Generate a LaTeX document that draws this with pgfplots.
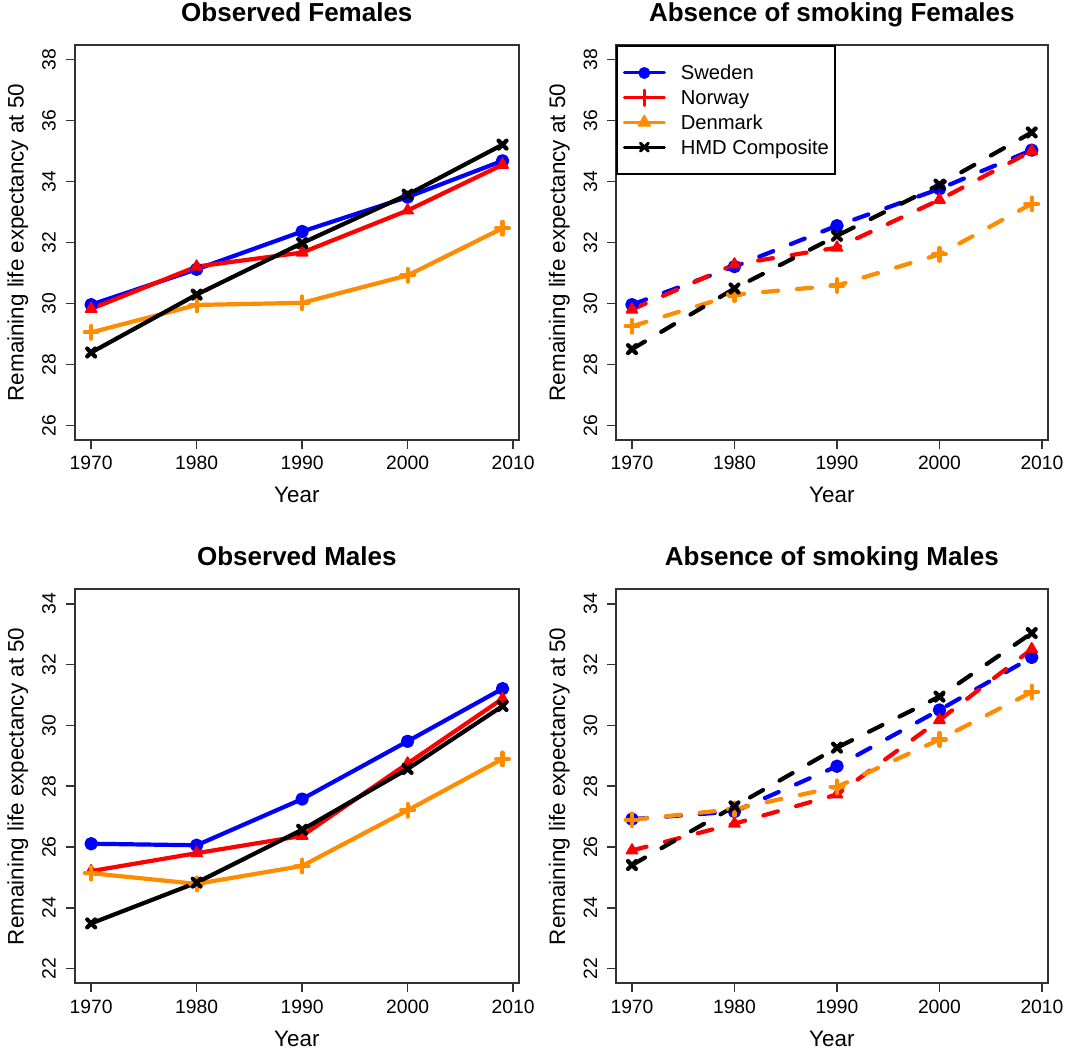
\documentclass[border=0pt]{standalone}
\usepackage{pgfplots}
\pgfplotsset{compat=1.18}
\usepackage{pgfplotstable}
\usepackage{fontspec}
\setmainfont{Liberation Sans}
\definecolor{rorange}{RGB}{255,140,0}

\pgfplotstableread{
year sw no dk hmd
1970 29.96 29.82 29.05 28.39
1980 31.12 31.21 29.95 30.29
1990 32.36 31.67 30.02 31.98
2000 33.49 33.05 30.92 33.57
2009 34.68 34.55 32.47 35.21
}\obsF
\pgfplotstableread{
year sw no dk hmd
1970 29.96 29.80 29.25 28.50
1980 31.21 31.28 30.29 30.49
1990 32.55 31.83 30.59 32.22
2000 33.76 33.40 31.61 33.90
2009 35.03 35.00 33.27 35.61
}\absF
\pgfplotstableread{
year sw no dk hmd
1970 26.11 25.21 25.14 23.49
1980 26.06 25.80 24.79 24.83
1990 27.58 26.37 25.38 26.57
2000 29.48 28.75 27.21 28.57
2009 31.21 30.88 28.90 30.64
}\obsM
\pgfplotstableread{
year sw no dk hmd
1970 26.92 25.89 26.90 25.41
1980 27.17 26.77 27.25 27.34
1990 28.66 27.73 27.98 29.27
2000 30.51 30.18 29.54 30.95
2009 32.24 32.51 31.10 33.04
}\absM

\pgfplotsset{
  rstyle/.style={
    scale only axis,
    axis line style={line width=0.8pt, black!80},
    xtick pos=bottom, ytick pos=left,
    tick align=outside,
    major tick length=4.35pt,
    tick style={line width=0.8pt, black!80},
    xmin=1968.44, xmax=2010.56,
    xtick={1970,1980,1990,2000,2010},
    /pgf/number format/assume math mode=true,
    /pgf/number format/1000 sep={},
    x tick label style={font=\fontsize{9.65}{11}\selectfont, anchor=base, yshift=-10.65pt},
    y tick label style={font=\fontsize{9.65}{11}\selectfont, xshift=-5.15pt, rotate=90, anchor=base},
    every axis x label/.style={at={(axis description cs:0.5,0)}, yshift=-31.5pt, anchor=base, font=\fontsize{11.2}{13}\selectfont},
    every axis y label/.style={at={(axis description cs:0,0.5)}, xshift=-25.5pt, rotate=90, anchor=base, font=\fontsize{11.2}{13}\selectfont},
    every axis title/.style={at={(axis description cs:0.5,1)}, yshift=11.8pt, anchor=base, font=\fontsize{13}{15}\selectfont\bfseries},
    xlabel={Year},
    ylabel={Remaining life expectancy at 50},
    every axis plot/.append style={line width=2.1pt, line join=round, line cap=round},
  },
  topy/.style={ymin=25.52, ymax=38.48, ytick={26,28,30,32,34,36,38}},
  boty/.style={ymin=21.52, ymax=34.48, ytick={22,24,26,28,30,32,34}},
  sw/.style={color=blue, mark=*, mark size=2.3pt, mark options={solid}},
  no/.style={color=red, mark=triangle*, mark size=3.2pt, mark options={solid, line width=0.8pt}},
  dk/.style={color=rorange, mark=+, mark size=3.2pt, mark options={solid}},
  hmd/.style={color=black, mark=x, mark size=2.8pt, mark options={solid}},
  rdash/.style={dash pattern=on 7.5pt off 9.5pt},
}

\begin{document}
\begin{tikzpicture}
\useasboundingbox (0,0) rectangle (538.5pt,526pt);

% Top left
\begin{axis}[rstyle, topy, at={(37.35pt,306pt)}, anchor=south west,
  width=222.15pt, height=197.5pt, title={Observed Females}]
\addplot[sw] table[x=year,y=sw]{\obsF};
\addplot[no] table[x=year,y=no]{\obsF};
\addplot[dk] table[x=year,y=dk]{\obsF};
\addplot[hmd] table[x=year,y=hmd]{\obsF};
\end{axis}

% Top right
\begin{axis}[rstyle, topy, at={(308pt,306pt)}, anchor=south west,
  width=215.85pt, height=197.5pt, title={Absence of smoking Females},
  legend style={at={(0,1)}, anchor=north west, draw=black, line width=0.8pt,
    font=\fontsize{10.1}{12}\selectfont, inner xsep=3pt, inner ysep=8.6pt,
    nodes={inner sep=0pt, text height=8.5pt, text depth=1.5pt},
    row sep=2.35pt, column sep=7.5pt},
  legend cell align=left,
  legend image code/.code={\draw[mark repeat=2, mark phase=2] plot coordinates {(0pt,0pt) (10pt,0pt) (20pt,0pt)};}]
\addlegendimage{blue, solid, line width=1.5pt, mark=*, mark size=2.2pt}
\addlegendimage{red, solid, line width=1.5pt, mark=+, mark size=3.8pt}
\addlegendimage{rorange, solid, line width=1.5pt, mark=triangle*, mark size=3.4pt, mark options={line width=0.8pt}}
\addlegendimage{black, solid, line width=1.5pt, mark=x, mark size=2.8pt}
\addplot[sw, rdash, forget plot] table[x=year,y=sw]{\absF};
\addplot[no, rdash, forget plot] table[x=year,y=no]{\absF};
\addplot[dk, rdash, forget plot] table[x=year,y=dk]{\absF};
\addplot[hmd, rdash, forget plot] table[x=year,y=hmd]{\absF};
\legend{Sweden,Norway,Denmark,HMD Composite}
\end{axis}

% Bottom left
\begin{axis}[rstyle, boty, at={(37.35pt,34.35pt)}, anchor=south west,
  width=222.15pt, height=197pt, title={Observed Males}]
\addplot[sw] table[x=year,y=sw]{\obsM};
\addplot[no] table[x=year,y=no]{\obsM};
\addplot[dk] table[x=year,y=dk]{\obsM};
\addplot[hmd] table[x=year,y=hmd]{\obsM};
\end{axis}

% Bottom right
\begin{axis}[rstyle, boty, at={(308pt,34.35pt)}, anchor=south west,
  width=215.85pt, height=197pt, title={Absence of smoking Males}]
\addplot[sw, rdash] table[x=year,y=sw]{\absM};
\addplot[no, rdash] table[x=year,y=no]{\absM};
\addplot[dk, rdash] table[x=year,y=dk]{\absM};
\addplot[hmd, rdash] table[x=year,y=hmd]{\absM};
\end{axis}
\end{tikzpicture}
\end{document}
